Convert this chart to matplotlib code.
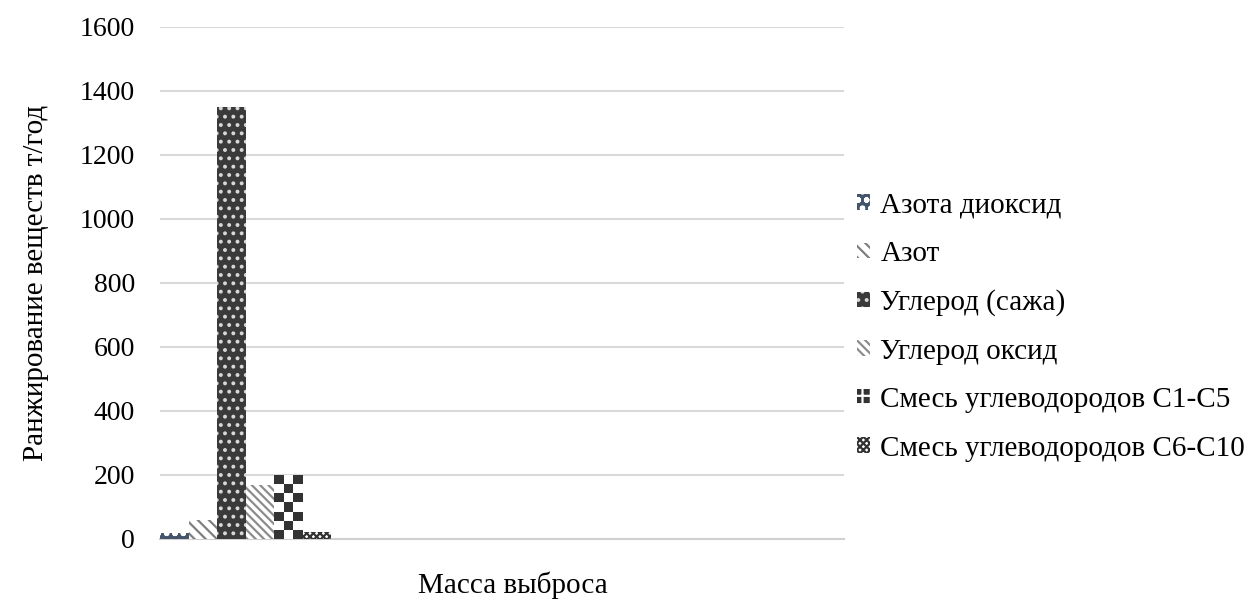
import numpy as np
import matplotlib
matplotlib.use("Agg")
import matplotlib.pyplot as plt
from matplotlib.patches import Patch
from matplotlib.colors import ListedColormap

plt.rcParams['font.family'] = ['Liberation Serif', 'DejaVu Serif']
plt.rcParams['hatch.linewidth'] = 1.6

series = ["Азота диоксид", "Азот", "Углерод (сажа)", "Углерод оксид",
          "Смесь углеводородов С1-С5", "Смесь углеводородов С6-С10"]
values = [20, 60, 1350, 170, 200, 22]
y_ticks = [0, 200, 400, 600, 800, 1000, 1200, 1400, 1600]
x_title = "Масса выброса"
y_title = "Ранжирование веществ т/год"

styles = [
    dict(facecolor="#44546A", hatch="oo", edgecolor="white"),
    dict(facecolor="white", hatch="\\\\\\", edgecolor="#7F7F7F"),
    dict(facecolor="#3A3A3A", hatch="..", edgecolor="#D8D8D8"),
    dict(facecolor="white", hatch="\\\\\\\\", edgecolor="#8C8C8C"),
    dict(facecolor="white", hatch=None, edgecolor="#333333"),
    dict(facecolor="white", hatch="xxxxx", edgecolor="#333333"),
]

fig = plt.figure(figsize=(12.53, 5.99), dpi=100)
ax = fig.add_axes([160 / 1253, 60 / 599, 684 / 1253, 512 / 599])

n = len(series)
width = 1.0 / n
bars = []
for i, (name, v, st) in enumerate(zip(series, values, styles)):
    xc = -0.5 + width * (i + 0.5)
    b = ax.bar(xc, v, width=width, facecolor=st["facecolor"], hatch=st["hatch"],
               edgecolor=st["edgecolor"], linewidth=0, zorder=3, label=name)
    bars.append(b[0])

ax.set_xlim(-0.5, 3.5)
ax.set_ylim(0, 1600)
ax.set_yticks(y_ticks)
ax.tick_params(axis='y', length=0, labelsize=20, pad=18)
ax.set_xticks([])
for s in ["top", "right", "left"]:
    ax.spines[s].set_visible(False)
ax.spines["bottom"].set_color("#D0D0D0")
ax.spines["bottom"].set_linewidth(1.5)
ax.grid(axis='y', color="#D9D9D9", linewidth=1.5, zorder=0)
ax.set_axisbelow(True)

# checkerboard texture for the C1-C5 bar
fig.canvas.draw()
cb = bars[4]
bx, by = cb.get_x(), cb.get_y()
bw, bh = cb.get_width(), cb.get_height()
p0 = ax.transData.transform((bx, by))
p1 = ax.transData.transform((bx + bw, by + bh))
wpx, hpx = p1[0] - p0[0], p1[1] - p0[1]
ncols = 3
nrows = max(1, int(round(hpx / (wpx / ncols))))
checker = (np.indices((nrows, ncols)).sum(axis=0) % 2).astype(float)
im = ax.imshow(checker, cmap=ListedColormap(["#333333", "white"]), vmin=0, vmax=1,
               extent=(bx, bx + bw, by, by + bh), aspect="auto",
               interpolation="nearest", zorder=4)
im.set_clip_path(cb)
ax.set_xlim(-0.5, 3.5)
ax.set_ylim(0, 1600)

ax.set_ylabel(y_title, fontsize=21)
ax.yaxis.set_label_coords(-0.163, 0.5)
fig.text(513 / 1253, 1 - 593 / 599, x_title, fontsize=21, ha="center", va="baseline")

handles = []
for name, st in zip(series, styles):
    if st["hatch"] is None:
        handles.append(Patch(facecolor="#333333", hatch="++", edgecolor="white",
                             linewidth=0, label=name))
    else:
        handles.append(Patch(facecolor=st["facecolor"], hatch=st["hatch"],
                             edgecolor=st["edgecolor"], linewidth=0, label=name))
leg = fig.legend(handles=handles, loc="center left",
                 bbox_to_anchor=(857 / 1253, 1 - 327 / 599), bbox_transform=fig.transFigure,
                 frameon=False, fontsize=21, handlelength=0.45, handleheight=0.45,
                 handletextpad=0.35, labelspacing=0.77, borderpad=0, borderaxespad=0)

fig.savefig("out.png", dpi=100)
